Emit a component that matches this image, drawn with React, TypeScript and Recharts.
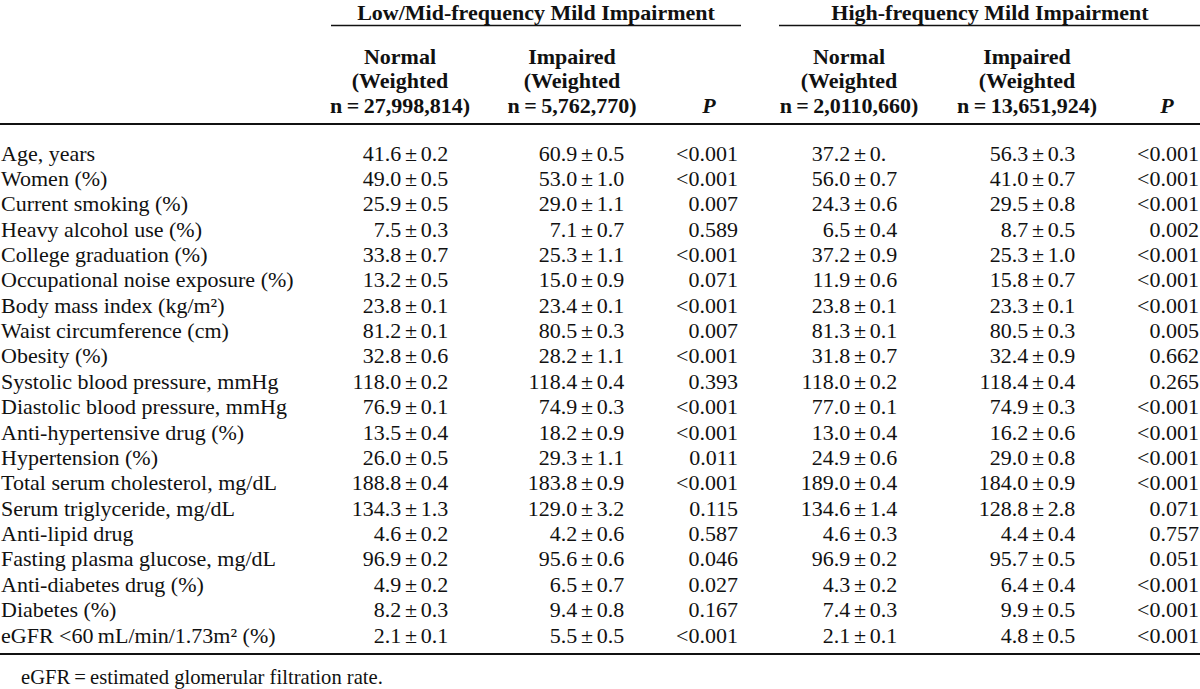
import { ScatterChart, Scatter, XAxis, YAxis } from "recharts";

document.body.style.margin = "0";

const ROW_LABELS = [
  "Age, years",
  "Women (%)",
  "Current smoking (%)",
  "Heavy alcohol use (%)",
  "College graduation (%)",
  "Occupational noise exposure (%)",
  "Body mass index (kg/m²)",
  "Waist circumference (cm)",
  "Obesity (%)",
  "Systolic blood pressure, mmHg",
  "Diastolic blood pressure, mmHg",
  "Anti-hypertensive drug (%)",
  "Hypertension (%)",
  "Total serum cholesterol, mg/dL",
  "Serum triglyceride, mg/dL",
  "Anti-lipid drug",
  "Fasting plasma glucose, mg/dL",
  "Anti-diabetes drug (%)",
  "Diabetes (%)",
  "eGFR <60\u2009mL/min/1.73m² (%)",
];

const LOWMID_NORMAL = [
  "41.6 ± 0.2", "49.0 ± 0.5", "25.9 ± 0.5", "7.5 ± 0.3", "33.8 ± 0.7",
  "13.2 ± 0.5", "23.8 ± 0.1", "81.2 ± 0.1", "32.8 ± 0.6", "118.0 ± 0.2",
  "76.9 ± 0.1", "13.5 ± 0.4", "26.0 ± 0.5", "188.8 ± 0.4", "134.3 ± 1.3",
  "4.6 ± 0.2", "96.9 ± 0.2", "4.9 ± 0.2", "8.2 ± 0.3", "2.1 ± 0.1",
];
const LOWMID_IMPAIRED = [
  "60.9 ± 0.5", "53.0 ± 1.0", "29.0 ± 1.1", "7.1 ± 0.7", "25.3 ± 1.1",
  "15.0 ± 0.9", "23.4 ± 0.1", "80.5 ± 0.3", "28.2 ± 1.1", "118.4 ± 0.4",
  "74.9 ± 0.3", "18.2 ± 0.9", "29.3 ± 1.1", "183.8 ± 0.9", "129.0 ± 3.2",
  "4.2 ± 0.6", "95.6 ± 0.6", "6.5 ± 0.7", "9.4 ± 0.8", "5.5 ± 0.5",
];
const LOWMID_P = [
  "<0.001", "<0.001", "0.007", "0.589", "<0.001",
  "0.071", "<0.001", "0.007", "<0.001", "0.393",
  "<0.001", "<0.001", "0.011", "<0.001", "0.115",
  "0.587", "0.046", "0.027", "0.167", "<0.001",
];
const HIGH_NORMAL = [
  "37.2 ± 0.", "56.0 ± 0.7", "24.3 ± 0.6", "6.5 ± 0.4", "37.2 ± 0.9",
  "11.9 ± 0.6", "23.8 ± 0.1", "81.3 ± 0.1", "31.8 ± 0.7", "118.0 ± 0.2",
  "77.0 ± 0.1", "13.0 ± 0.4", "24.9 ± 0.6", "189.0 ± 0.4", "134.6 ± 1.4",
  "4.6 ± 0.3", "96.9 ± 0.2", "4.3 ± 0.2", "7.4 ± 0.3", "2.1 ± 0.1",
];
const HIGH_IMPAIRED = [
  "56.3 ± 0.3", "41.0 ± 0.7", "29.5 ± 0.8", "8.7 ± 0.5", "25.3 ± 1.0",
  "15.8 ± 0.7", "23.3 ± 0.1", "80.5 ± 0.3", "32.4 ± 0.9", "118.4 ± 0.4",
  "74.9 ± 0.3", "16.2 ± 0.6", "29.0 ± 0.8", "184.0 ± 0.9", "128.8 ± 2.8",
  "4.4 ± 0.4", "95.7 ± 0.5", "6.4 ± 0.4", "9.9 ± 0.5", "4.8 ± 0.5",
];
const HIGH_P = [
  "<0.001", "<0.001", "<0.001", "0.002", "<0.001",
  "<0.001", "<0.001", "0.005", "0.662", "0.265",
  "<0.001", "<0.001", "<0.001", "<0.001", "0.071",
  "0.757", "0.051", "<0.001", "<0.001", "<0.001",
];

const GROUPS = ["Low/Mid-frequency Mild Impairment", "High-frequency Mild Impairment"];
const COLUMN_HEADS = [
  ["Normal", "(Weighted", "n\u2009=\u200927,998,814)"],
  ["Impaired", "(Weighted", "n\u2009=\u20095,762,770)"],
  ["", "", "P"],
  ["Normal", "(Weighted", "n\u2009=\u20092,0110,660)"],
  ["Impaired", "(Weighted", "n\u2009=\u200913,651,924)"],
  ["", "", "P"],
];
const FOOTNOTE = "eGFR\u2009=\u2009estimated glomerular filtration rate.";

const COLUMNS = [LOWMID_NORMAL, LOWMID_IMPAIRED, LOWMID_P, HIGH_NORMAL, HIGH_IMPAIRED, HIGH_P];

// layout (pixels on a 0..1200 x scale)
const W = 1200;
const H = 689;
const FONT = '"Liberation Serif", "Times New Roman", serif';
const SIZE = 22;
const INK = "#111";
const HEAD_X = [400, 572, 709, 849, 1027, 1167];
const CELL_X = [411, 587, 738, 860, 1038, 1199]; // ± sign for mean columns, right edge for P
const GROUP_X = [536, 990];
const GROUP_HALF = [205, 211];
const PM_GAP = 9.8;

function HeaderTick({ x, y, payload }: any) {
  const g = GROUP_X.indexOf(payload.value);
  if (g >= 0) {
    return (
      <g>
        <text x={x} y={y - 112} textAnchor="middle" dominantBaseline="central"
          fontFamily={FONT} fontSize={SIZE} fontWeight="bold" fill={INK}>
          {GROUPS[g]}
        </text>
        <line x1={x - GROUP_HALF[g]} x2={x + GROUP_HALF[g]} y1={y - 98.5} y2={y - 98.5}
          stroke={INK} strokeWidth={1.3} />
      </g>
    );
  }
  const c = HEAD_X.indexOf(payload.value);
  const lines = COLUMN_HEADS[c] || [];
  const isP = lines[2] === "P";
  return (
    <g>
      {lines.map((t, i) =>
        t ? (
          <text key={i} x={x} y={y - 68 + i * 24.5} textAnchor="middle" dominantBaseline="central"
            fontFamily={FONT} fontSize={SIZE} fontWeight="bold" fontStyle={isP ? "italic" : "normal"} fill={INK}>
            {t}
          </text>
        ) : null
      )}
    </g>
  );
}

function RowLabel({ y, payload }: any) {
  return (
    <text x={1} y={y} textAnchor="start" dominantBaseline="central"
      fontFamily={FONT} fontSize={SIZE} fill={INK}>
      {ROW_LABELS[payload.value]}
    </text>
  );
}

function CellText({ cx, cy, payload }: any) {
  const text: string = payload.text;
  const common = { fontFamily: FONT, fontSize: SIZE, fill: INK, dominantBaseline: "central" as const };
  if (text.includes("±")) {
    const [mean, sd] = text.split(" ± ");
    return (
      <g>
        <text x={cx - PM_GAP} y={cy} textAnchor="end" {...common}>{mean}</text>
        <text x={cx} y={cy} textAnchor="middle" {...common}>±</text>
        <text x={cx + PM_GAP} y={cy} textAnchor="start" {...common}>{sd}</text>
      </g>
    );
  }
  return <text x={cx} y={cy} textAnchor="end" {...common}>{text}</text>;
}

function Footnote({ viewBox }: any) {
  return (
    <text x={viewBox.x + 21} y={viewBox.y + 23} dominantBaseline="central"
      fontFamily={FONT} fontSize={20.6} fill={INK}>
      {FOOTNOTE}
    </text>
  );
}

export default function App() {
  return (
    <div style={{ width: W, height: H, background: "#fff" }}>
      <ScatterChart width={W} height={H} margin={{ top: 0, right: 0, bottom: 0, left: -1 }}>
        <XAxis
          type="number"
          dataKey="x"
          orientation="top"
          domain={[0, W]}
          ticks={[...HEAD_X, ...GROUP_X]}
          interval={0}
          height={124}
          tickSize={0}
          tickMargin={0}
          tickLine={false}
          axisLine={{ stroke: INK, strokeWidth: 2 }}
          tick={<HeaderTick />}
        />
        <XAxis
          xAxisId="foot"
          type="number"
          orientation="bottom"
          domain={[0, W]}
          height={35}
          tick={false}
          tickLine={false}
          axisLine={{ stroke: INK, strokeWidth: 2 }}
          label={(props: any) => <Footnote {...props} />}
        />
        <YAxis
          type="number"
          dataKey="y"
          domain={[0, ROW_LABELS.length - 1]}
          ticks={ROW_LABELS.map((_, i) => i)}
          interval={0}
          reversed
          width={1}
          padding={{ top: 29, bottom: 19 }}
          axisLine={false}
          tickLine={false}
          tick={<RowLabel />}
        />
        {COLUMNS.map((values, c) => (
          <Scatter
            key={c}
            data={values.map((text, i) => ({ x: CELL_X[c], y: i, text }))}
            shape={(props: any) => <CellText {...props} />}
            isAnimationActive={false}
          />
        ))}
      </ScatterChart>
    </div>
  );
}
